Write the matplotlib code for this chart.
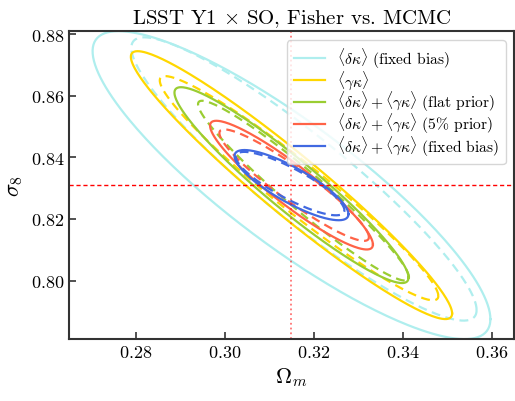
import numpy as np
import matplotlib
matplotlib.use("Agg")
import matplotlib.pyplot as plt

plt.rcParams['font.family'] = 'serif'
plt.rcParams['font.serif'] = ['cmr10']
plt.rcParams['mathtext.fontset'] = 'cm'
plt.rcParams['axes.formatter.use_mathtext'] = True

# fiducial values
om_fid = 0.315
s8_fid = 0.831

labels = [r'$\langle\delta\kappa\rangle$ (fixed bias)',
          r'$\langle\gamma\kappa\rangle$',
          r'$\langle\delta\kappa\rangle + \langle\gamma\kappa\rangle$ (flat prior)',
          r'$\langle\delta\kappa\rangle + \langle\gamma\kappa\rangle$ (5% prior)',
          r'$\langle\delta\kappa\rangle + \langle\gamma\kappa\rangle$ (fixed bias)']
colors = ['paleturquoise', 'gold', 'yellowgreen', 'tomato', 'royalblue']

# Fisher contours: half extent in Om, half extent in s8, correlation
fisher_dx = [0.0447, 0.0361, 0.0263, 0.0183, 0.0128]
fisher_dy = [0.0500, 0.0435, 0.0318, 0.0209, 0.0114]
fisher_rho = [-0.870, -0.958, -0.944, -0.923, -0.827]

# MCMC contours (read off, approximated as ellipses)
mcmc_cx = [0.3178, 0.3167, 0.3177, 0.3156, 0.3147]
mcmc_cy = [0.8330, 0.8300, 0.8292, 0.8310, 0.8315]
mcmc_dx = [0.0388, 0.0313, 0.0237, 0.0168, 0.0122]
mcmc_dy = [0.0460, 0.0364, 0.0292, 0.0181, 0.0103]
mcmc_rho = [-0.925, -0.961, -0.962, -0.933, -0.845]


def contour(cx, cy, dx, dy, rho):
    t = np.linspace(0, 2 * np.pi, 300)
    x = cx + dx * np.cos(t)
    y = cy + dy * (rho * np.cos(t) + np.sqrt(1 - rho ** 2) * np.sin(t))
    return x, y


fig = plt.figure(figsize=(5.15, 4.02), dpi=100)
ax = fig.add_axes([0.134, 0.154, 0.864, 0.766])

for i in range(len(labels)):
    x, y = contour(om_fid, s8_fid, fisher_dx[i], fisher_dy[i], fisher_rho[i])
    ax.plot(x, y, color=colors[i], lw=1.6, label=labels[i])
    x, y = contour(mcmc_cx[i], mcmc_cy[i], mcmc_dx[i], mcmc_dy[i], mcmc_rho[i])
    ax.plot(x, y, color=colors[i], lw=1.6, ls=(0, (4, 2.5)))

ax.axvline(om_fid, color='red', ls=':', lw=1.3, alpha=0.55)
ax.axhline(s8_fid, color='#ff0000', ls=(0, (3, 2)), lw=1.0)

ax.set_xlim(0.265, 0.365)
ax.set_ylim(0.781, 0.881)
ax.set_xticks([0.28, 0.30, 0.32, 0.34, 0.36])
ax.set_yticks([0.80, 0.82, 0.84, 0.86, 0.88])
ax.tick_params(direction='in', labelsize=13, length=5, width=1.2, color='#333333')
for sp in ax.spines.values():
    sp.set_linewidth(1.5)
    sp.set_color('#333333')

ax.set_xlabel(r'$\Omega_m$', fontsize=16)
ax.set_ylabel(r'$\sigma_8$', fontsize=16)
ax.set_title(r'LSST Y1 $\times$ SO, Fisher vs. MCMC', fontsize=15)
ax.legend(loc='upper right', fontsize=11.2, handlelength=2.0, labelspacing=-0.05,
          borderaxespad=0.4, bbox_to_anchor=(0.995, 0.99))

fig.savefig('out.png', dpi=100)
